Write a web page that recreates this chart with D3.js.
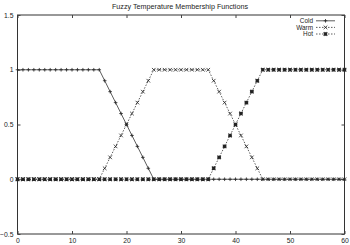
<!DOCTYPE html>
<html>
<head>
<meta charset="utf-8">
<script src="https://cdn.jsdelivr.net/npm/d3@7"></script>
<style>
  body { margin: 0; background: #fff; }
  text { font-family: "Liberation Sans", Arial, sans-serif; fill: #222; }
</style>
</head>
<body>
<script>
var W = 350, H = 245;
var margin = {top: 15, right: 5.5, bottom: 11, left: 17.5};

// temperature samples 0..60
var temps = d3.range(0, 61);
var cold = [1,1,1,1,1,1,1,1,1,1,1,1,1,1,1,1,0.9,0.8,0.7,0.6,0.5,0.4,0.3,0.2,0.1,0,
            0,0,0,0,0,0,0,0,0,0,0,0,0,0,0,0,0,0,0,0,0,0,0,0,0,0,0,0,0,0,0,0,0,0,0];
var warm = [0,0,0,0,0,0,0,0,0,0,0,0,0,0,0,0,0.1,0.2,0.3,0.4,0.5,0.6,0.7,0.8,0.9,1,
            1,1,1,1,1,1,1,1,1,1,0.9,0.8,0.7,0.6,0.5,0.4,0.3,0.2,0.1,0,
            0,0,0,0,0,0,0,0,0,0,0,0,0,0,0];
var hot  = [0,0,0,0,0,0,0,0,0,0,0,0,0,0,0,0,0,0,0,0,0,0,0,0,0,0,0,0,0,0,0,0,0,0,0,0,
            0.1,0.2,0.3,0.4,0.5,0.6,0.7,0.8,0.9,1,
            1,1,1,1,1,1,1,1,1,1,1,1,1,1,1];
var seriesNames = ["Cold", "Warm", "Hot"];
var xTicks = [0, 10, 20, 30, 40, 50, 60];
var yTicks = [-0.5, 0, 0.5, 1, 1.5];
var title = "Fuzzy Temperature Membership Functions";

var svg = d3.select("body").append("svg").attr("width", W).attr("height", H);

var x = d3.scaleLinear().domain([0, 60]).range([margin.left, W - margin.right]);
var y = d3.scaleLinear().domain([-0.5, 1.5]).range([H - margin.bottom, margin.top]);

// frame
svg.append("rect")
  .attr("x", x(0)).attr("y", y(1.5))
  .attr("width", x(60) - x(0)).attr("height", y(-0.5) - y(1.5))
  .attr("fill", "none").attr("stroke", "#333").attr("stroke-width", 1);

// axes with inward ticks, gnuplot style
var tk = 3;
var axB = svg.append("g").attr("transform", "translate(0," + y(-0.5) + ")")
  .call(d3.axisBottom(x).tickValues(xTicks).tickSize(-tk).tickPadding(4));
var axT = svg.append("g").attr("transform", "translate(0," + y(1.5) + ")")
  .call(d3.axisTop(x).tickValues(xTicks).tickSize(-tk).tickFormat(""));
var axL = svg.append("g").attr("transform", "translate(" + x(0) + ",0)")
  .call(d3.axisLeft(y).tickValues(yTicks).tickSize(-tk).tickPadding(4).tickFormat(d3.format("")));
var axR = svg.append("g").attr("transform", "translate(" + x(60) + ",0)")
  .call(d3.axisRight(y).tickValues(yTicks).tickSize(-tk).tickFormat(""));
[axB, axT, axL, axR].forEach(function (g) {
  g.select(".domain").remove();
  g.selectAll(".tick line").attr("stroke", "#444");
  g.selectAll("text").attr("font-size", 6.8).attr("fill", "#222")
    .attr("font-family", "Liberation Sans, Arial, sans-serif");
});

svg.append("text").attr("x", 180).attr("y", 8.5).attr("text-anchor", "middle")
  .attr("font-size", 7.2).text(title);

var data = [cold, warm, hot];
var dashes = [null, "1.5,1.5", "1.5,1.5"];
var line = d3.line().x(function (d, i) { return x(temps[i]); }).y(function (d) { return y(d); });

function marker(g, k, cx, cy) {
  var s = 1.8;
  var p = g.append("path").attr("transform", "translate(" + cx + "," + cy + ")")
    .attr("fill", "none").attr("stroke", "#222").attr("stroke-width", 0.8);
  if (k === 0) p.attr("d", "M" + -s + ",0H" + s + "M0," + -s + "V" + s);
  else if (k === 1) p.attr("d", "M" + -s + "," + -s + "L" + s + "," + s + "M" + -s + "," + s + "L" + s + "," + -s);
  else p.attr("d", "M" + -s + ",0H" + s + "M0," + -s + "V" + s + "M" + -s + "," + -s + "L" + s + "," + s + "M" + -s + "," + s + "L" + s + "," + -s)
    .attr("stroke-width", 1.1);
}

data.forEach(function (vals, k) {
  var g = svg.append("g");
  g.append("path").attr("d", line(vals)).attr("fill", "none")
    .attr("stroke", "#333").attr("stroke-width", 0.8)
    .attr("stroke-dasharray", dashes[k]);
  vals.forEach(function (v, i) { marker(g, k, x(temps[i]), y(v)); });
});

// legend
var lx = 316, ly = [20.8, 27.4, 34];
seriesNames.forEach(function (n, k) {
  svg.append("text").attr("x", lx - 3).attr("y", ly[k] + 2.3)
    .attr("text-anchor", "end").attr("font-size", 6.4).text(n);
  var g = svg.append("g");
  g.append("line").attr("x1", lx).attr("x2", lx + 19).attr("y1", ly[k]).attr("y2", ly[k])
    .attr("stroke", "#333").attr("stroke-width", 0.8).attr("stroke-dasharray", dashes[k]);
  marker(g, k, lx + 9.5, ly[k]);
});
</script>
</body>
</html>
